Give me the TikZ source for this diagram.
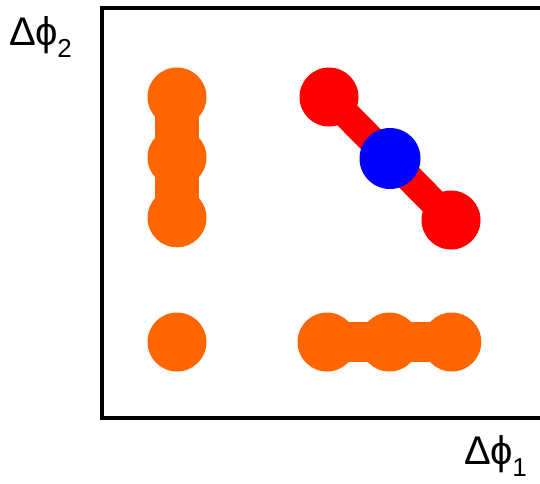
\documentclass[tikz,border=0pt]{standalone}
\usepackage{fontspec}
\setmainfont{Liberation Sans}
\usepackage{tikz}
\usetikzlibrary{positioning,calc}
\definecolor{naranja}{RGB}{255,102,0}
\definecolor{rojo}{RGB}{255,0,0}
\definecolor{azul}{RGB}{0,0,255}
\newcommand{\sub}[1]{\raisebox{-12pt}{\fontsize{26}{28}\selectfont #1}}

\begin{document}
\begin{tikzpicture}[x=1pt,y=-1pt,
  punto/.style={circle,inner sep=0pt,minimum size=59pt},
  enlace/.style={line width=#1,line cap=round},
  eje/.style={anchor=base west,inner sep=0pt,font=\fontsize{40}{42}\selectfont}]
\clip (0,0) rectangle (540,483);
\useasboundingbox (0,0) rectangle (540,483);
% marco
\draw[line width=3.5pt] (102,8) rectangle (560,418);
\node[eje] (ejey) at (9,45) {Δϕ\kern-1pt\sub{2}};
\node[eje] (ejex) at (464,464) {Δϕ\kern-1pt\sub{1}};
% columna naranja
\node[punto,fill=naranja] (c1) at (177,97) {};
\node[punto,fill=naranja,below=1pt of c1] (c2) {};
\node[punto,fill=naranja,below=1pt of c2] (c3) {};
\node[punto,fill=naranja] (c4) at (177,342) {};
\draw[enlace=44pt,naranja] (c1.center) -- (c3.center);
% fila naranja
\node[punto,fill=naranja] (f1) at (327,342) {};
\node[punto,fill=naranja,right=3pt of f1] (f2) {};
\node[punto,fill=naranja,right=3pt of f2] (f3) {};
\draw[enlace=40pt,naranja] (f1.center) -- (f3.center);
% diagonal
\node[punto,fill=rojo] (r1) at (329,97) {};
\node[punto,fill=rojo] (r2) at (451,220) {};
\draw[enlace=28pt,rojo] (r1.center) -- (r2.center);
\node[punto,fill=azul,minimum size=61pt] (b1) at ($(r1)!0.5!(r2)$) {};
\end{tikzpicture}
\end{document}
